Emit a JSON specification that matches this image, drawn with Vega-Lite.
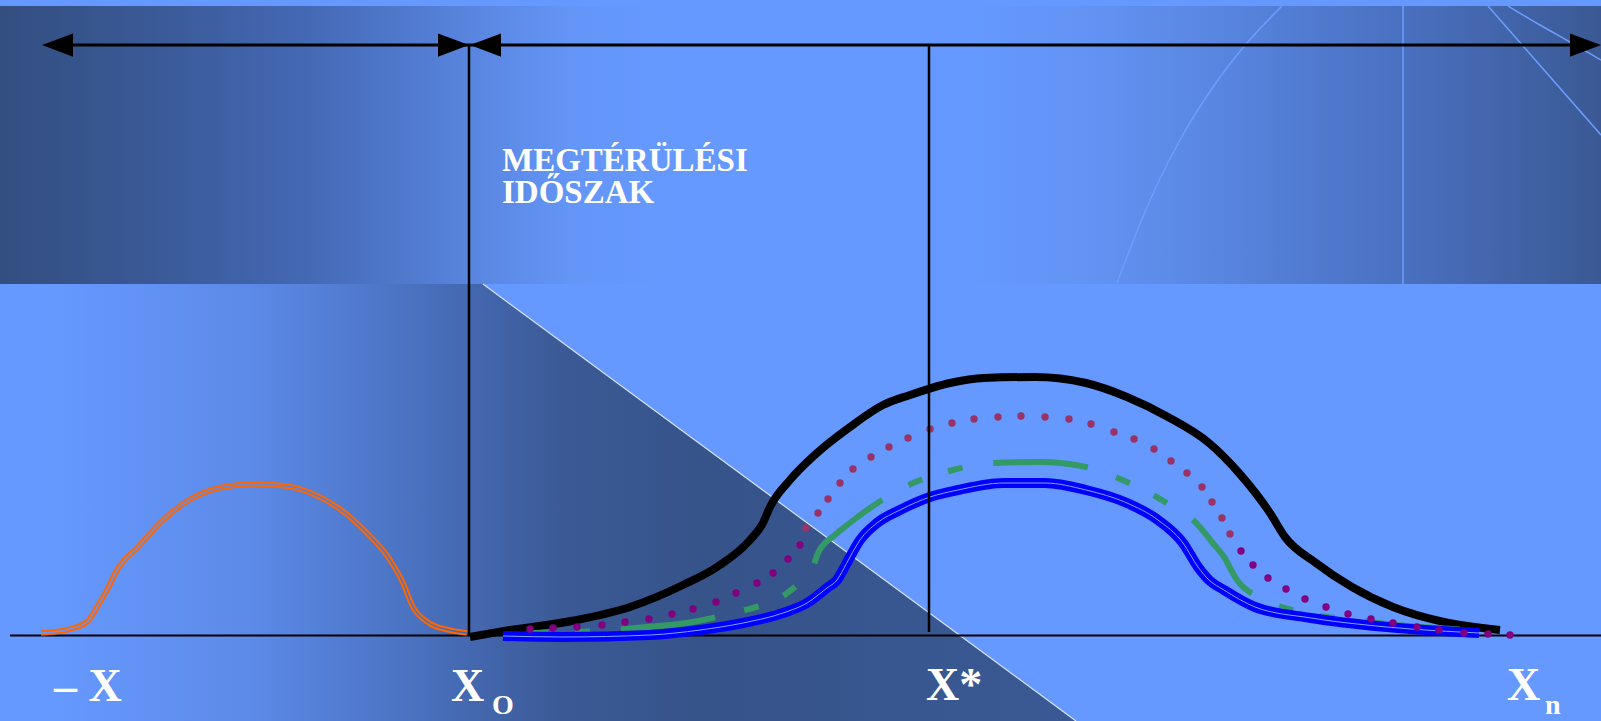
{
  "$schema": "https://vega.github.io/schema/vega-lite/v6.json",
  "width": 1601,
  "height": 721,
  "padding": 0,
  "autosize": {"type": "none"},
  "background": "#6699FF",
  "config": {"view": {"stroke": null}},
  "datasets": {
    "topband": [{"x": 0, "x2": 1601, "v": 629, "v2": 351}],
    "lowband": [{"x": 0, "x2": 1076, "v": 351, "v2": -86}],
    "tri": [{"x": 483, "v": 351, "v2": 351}, {"x": 1076, "v": -86, "v2": 351}],
    "diag": [{"x": 483, "v": 351}, {"x": 1076, "v": -86}],
    "deco": [
      {"id": "a", "x": 1282, "v": 629}, {"id": "a", "x": 1247, "v": 592}, {"id": "a", "x": 1213, "v": 548},
      {"id": "a", "x": 1180, "v": 495}, {"id": "a", "x": 1147, "v": 428}, {"id": "a", "x": 1117, "v": 352},
      {"id": "b", "x": 1488, "v": 629}, {"id": "b", "x": 1601, "v": 500},
      {"id": "c", "x": 1508, "v": 629}, {"id": "c", "x": 1540, "v": 610}, {"id": "c", "x": 1570, "v": 593}, {"id": "c", "x": 1601, "v": 575}
    ],
    "decovert": [{"x": 1403, "v": 629, "v2": 351}],
    "baseline": [{"x": 10, "x2": 1601, "v": -0.5}],
    "arrowline": [{"x": 60, "x2": 1590, "v": 590}],
    "arrowheads": [
      {"dir": "left", "x": 57.5, "v": 590}, {"dir": "right", "x": 453.5, "v": 590},
      {"dir": "left", "x": 485.5, "v": 590}, {"dir": "right", "x": 1585.5, "v": 590}
    ],
    "vlines": [{"x": 469, "v": 590, "v2": -1}, {"x": 929, "v": 590, "v2": 3}],
    "orange": [
      {"x": 41, "v": 2}, {"x": 66, "v": 5}, {"x": 87, "v": 13}, {"x": 97, "v": 28}, {"x": 107, "v": 45},
      {"x": 117, "v": 65}, {"x": 138, "v": 88}, {"x": 163, "v": 115}, {"x": 189, "v": 135}, {"x": 219, "v": 147},
      {"x": 255, "v": 151}, {"x": 286, "v": 149}, {"x": 311, "v": 142}, {"x": 337, "v": 128}, {"x": 367, "v": 102},
      {"x": 388, "v": 78}, {"x": 403, "v": 52}, {"x": 413, "v": 28}, {"x": 429, "v": 12}, {"x": 449, "v": 5}, {"x": 467, "v": 2}
    ],
    "black": [
      {"x": 470, "v": -2}, {"x": 510, "v": 5}, {"x": 577, "v": 15}, {"x": 630, "v": 28}, {"x": 683, "v": 50},
      {"x": 717, "v": 68}, {"x": 750, "v": 95}, {"x": 763, "v": 112}, {"x": 770, "v": 128}, {"x": 790, "v": 155},
      {"x": 817, "v": 182}, {"x": 850, "v": 208}, {"x": 883, "v": 230}, {"x": 910, "v": 240}, {"x": 950, "v": 252},
      {"x": 984, "v": 257}, {"x": 1035, "v": 258}, {"x": 1086, "v": 252}, {"x": 1127, "v": 238}, {"x": 1168, "v": 218},
      {"x": 1209, "v": 192}, {"x": 1239, "v": 162}, {"x": 1270, "v": 122}, {"x": 1285, "v": 98}, {"x": 1316, "v": 72},
      {"x": 1352, "v": 48}, {"x": 1393, "v": 28}, {"x": 1444, "v": 13}, {"x": 1500, "v": 5}
    ],
    "green": [
      {"x": 530, "v": 2}, {"x": 600, "v": 4}, {"x": 647, "v": 8}, {"x": 693, "v": 13}, {"x": 737, "v": 23},
      {"x": 760, "v": 29}, {"x": 778, "v": 36}, {"x": 796, "v": 49}, {"x": 812, "v": 65}, {"x": 818, "v": 82},
      {"x": 835, "v": 100}, {"x": 851, "v": 113}, {"x": 879, "v": 133}, {"x": 911, "v": 151}, {"x": 953, "v": 165},
      {"x": 994, "v": 172}, {"x": 1040, "v": 173}, {"x": 1086, "v": 168}, {"x": 1127, "v": 153}, {"x": 1165, "v": 133},
      {"x": 1198, "v": 110}, {"x": 1212, "v": 93}, {"x": 1224, "v": 78}, {"x": 1237, "v": 55}, {"x": 1260, "v": 37},
      {"x": 1300, "v": 23}, {"x": 1362, "v": 14}, {"x": 1420, "v": 8}, {"x": 1470, "v": 5}
    ],
    "blue": [
      {"x": 503, "v": -1}, {"x": 563, "v": -2}, {"x": 650, "v": 0}, {"x": 700, "v": 5}, {"x": 743, "v": 12},
      {"x": 783, "v": 22}, {"x": 807, "v": 32}, {"x": 827, "v": 47}, {"x": 837, "v": 55}, {"x": 843, "v": 65},
      {"x": 850, "v": 78}, {"x": 860, "v": 95}, {"x": 877, "v": 112}, {"x": 900, "v": 125}, {"x": 930, "v": 138},
      {"x": 958, "v": 145}, {"x": 1004, "v": 152}, {"x": 1045, "v": 152}, {"x": 1086, "v": 145}, {"x": 1127, "v": 132},
      {"x": 1158, "v": 115}, {"x": 1183, "v": 92}, {"x": 1198, "v": 68}, {"x": 1209, "v": 55}, {"x": 1224, "v": 45},
      {"x": 1255, "v": 28}, {"x": 1311, "v": 17}, {"x": 1387, "v": 8}, {"x": 1479, "v": 2}
    ],
    "dots": [
      {"part": "tail", "x": 530, "v": 6}, {"part": "tail", "x": 553, "v": 7}, {"part": "tail", "x": 577, "v": 8},
      {"part": "tail", "x": 602, "v": 10}, {"part": "tail", "x": 625, "v": 13}, {"part": "tail", "x": 649, "v": 16},
      {"part": "tail", "x": 672, "v": 21}, {"part": "tail", "x": 693, "v": 26}, {"part": "tail", "x": 716, "v": 33},
      {"part": "tail", "x": 736, "v": 42}, {"part": "tail", "x": 757, "v": 52}, {"part": "tail", "x": 773, "v": 62},
      {"part": "tail", "x": 788, "v": 76}, {"part": "tail", "x": 800, "v": 90}, {"part": "arc", "x": 806, "v": 107},
      {"part": "arc", "x": 818, "v": 122}, {"part": "arc", "x": 828, "v": 136}, {"part": "arc", "x": 840, "v": 152},
      {"part": "arc", "x": 853, "v": 166}, {"part": "arc", "x": 871, "v": 178}, {"part": "arc", "x": 889, "v": 188},
      {"part": "arc", "x": 908, "v": 197}, {"part": "arc", "x": 930, "v": 206}, {"part": "arc", "x": 952, "v": 212},
      {"part": "arc", "x": 974, "v": 216}, {"part": "arc", "x": 998, "v": 218}, {"part": "arc", "x": 1021, "v": 219},
      {"part": "arc", "x": 1045, "v": 218}, {"part": "arc", "x": 1069, "v": 216}, {"part": "arc", "x": 1091, "v": 211},
      {"part": "arc", "x": 1114, "v": 203}, {"part": "arc", "x": 1134, "v": 196}, {"part": "arc", "x": 1154, "v": 186},
      {"part": "arc", "x": 1171, "v": 174}, {"part": "arc", "x": 1187, "v": 162}, {"part": "arc", "x": 1202, "v": 148},
      {"part": "arc", "x": 1212, "v": 133}, {"part": "arc", "x": 1222, "v": 117}, {"part": "arc", "x": 1230, "v": 101},
      {"part": "tail", "x": 1241, "v": 84}, {"part": "tail", "x": 1253, "v": 70}, {"part": "tail", "x": 1268, "v": 57},
      {"part": "tail", "x": 1286, "v": 46}, {"part": "tail", "x": 1305, "v": 36}, {"part": "tail", "x": 1326, "v": 28},
      {"part": "tail", "x": 1348, "v": 21}, {"part": "tail", "x": 1371, "v": 16}, {"part": "tail", "x": 1393, "v": 12},
      {"part": "tail", "x": 1417, "v": 8}, {"part": "tail", "x": 1439, "v": 5}, {"part": "tail", "x": 1464, "v": 2},
      {"part": "tail", "x": 1488, "v": 1}, {"part": "tail", "x": 1510, "v": 0}
    ],
    "title": [
      {"t": "MEGTÉRÜLÉSI", "x": 502, "v": 464.5},
      {"t": "IDŐSZAK", "x": 502, "v": 432}
    ],
    "labels": [
      {"t": "– X", "x": 54, "v": -66},
      {"t": "X", "x": 451, "v": -66},
      {"t": "X*", "x": 926, "v": -65},
      {"t": "X", "x": 1507, "v": -65}
    ],
    "subs": [
      {"t": "O", "x": 492, "v": -79},
      {"t": "n", "x": 1545, "v": -79}
    ]
  },
  "encoding": {
    "x": {"field": "x", "type": "quantitative", "scale": {"domain": [0, 1601], "nice": false, "zero": false}, "axis": null},
    "y": {"field": "v", "type": "quantitative", "scale": {"domain": [-86, 635], "nice": false, "zero": false}, "axis": null}
  },
  "layer": [
    {
      "data": {"name": "topband"},
      "mark": {"type": "rect", "color": {"gradient": "linear", "x1": 0, "y1": 0, "x2": 1, "y2": 0, "stops": [
        {"offset": 0, "color": "#334E80"}, {"offset": 0.1, "color": "#3A5A98"}, {"offset": 0.19, "color": "#4468B4"},
        {"offset": 0.29, "color": "#5884DD"}, {"offset": 0.36, "color": "#6496F8"}, {"offset": 0.42, "color": "#6699FF"},
        {"offset": 0.6, "color": "#6699FF"}, {"offset": 0.68, "color": "#6293F4"}, {"offset": 0.77, "color": "#5784DE"},
        {"offset": 0.876, "color": "#4A70C0"}, {"offset": 1, "color": "#3A5994"}]}},
      "encoding": {"x2": {"field": "x2"}, "y2": {"field": "v2"}}
    },
    {
      "data": {"name": "lowband"},
      "mark": {"type": "rect", "color": {"gradient": "linear", "x1": 0, "y1": 0, "x2": 1, "y2": 0, "stops": [
        {"offset": 0, "color": "#6699FF"}, {"offset": 0.046, "color": "#6699FF"}, {"offset": 0.232, "color": "#5C8AE8"},
        {"offset": 0.372, "color": "#4C74C4"}, {"offset": 0.437, "color": "#4468B0"}, {"offset": 0.52, "color": "#3B5A96"},
        {"offset": 0.65, "color": "#36538A"}, {"offset": 1, "color": "#3A5994"}]}},
      "encoding": {"x2": {"field": "x2"}, "y2": {"field": "v2"}}
    },
    {
      "data": {"name": "tri"},
      "mark": {"type": "area", "color": "#6699FF", "opacity": 1},
      "encoding": {"y2": {"field": "v2"}}
    },
    {
      "data": {"name": "diag"},
      "mark": {"type": "line", "color": "#D8E2F4", "strokeWidth": 1.2},
      "encoding": {}
    },
    {
      "data": {"name": "deco"},
      "mark": {"type": "line", "color": "#6C9DFF", "strokeWidth": 1.5, "interpolate": "monotone"},
      "encoding": {"detail": {"field": "id"}}
    },
    {
      "data": {"name": "decovert"},
      "mark": {"type": "rule", "color": "#6C9DFF", "strokeWidth": 1.5},
      "encoding": {"y2": {"field": "v2"}}
    },
    {
      "data": {"name": "baseline"},
      "mark": {"type": "rule", "color": "#000000", "strokeWidth": 2},
      "encoding": {"x2": {"field": "x2"}}
    },
    {
      "data": {"name": "arrowline"},
      "mark": {"type": "rule", "color": "#000000", "strokeWidth": 3},
      "encoding": {"x2": {"field": "x2"}}
    },
    {
      "data": {"name": "arrowheads"},
      "transform": [{"filter": "datum.dir === 'left'"}],
      "mark": {"type": "point", "shape": "M -1 0 L 1 -0.75 L 1 0.75 Z", "filled": true, "color": "#000000", "opacity": 1, "size": 961, "strokeWidth": 0}
    },
    {
      "data": {"name": "arrowheads"},
      "transform": [{"filter": "datum.dir === 'right'"}],
      "mark": {"type": "point", "shape": "M 1 0 L -1 -0.75 L -1 0.75 Z", "filled": true, "color": "#000000", "opacity": 1, "size": 961, "strokeWidth": 0}
    },
    {
      "data": {"name": "orange"},
      "mark": {"type": "line", "color": "#FF6600", "strokeWidth": 5.5, "interpolate": "monotone"},
      "encoding": {}
    },
    {
      "data": {"name": "orange"},
      "mark": {"type": "line", "strokeWidth": 1.5, "interpolate": "monotone", "stroke": {"gradient": "linear", "x1": 0, "y1": 0, "x2": 1, "y2": 0, "stops": [
        {"offset": 0, "color": "#6699FF"}, {"offset": 0.49, "color": "#5C8AE8"}, {"offset": 0.84, "color": "#4C74C4"}, {"offset": 1, "color": "#4468B0"}]}},
      "encoding": {}
    },
    {
      "data": {"name": "black"},
      "mark": {"type": "line", "color": "#000000", "strokeWidth": 8, "interpolate": "monotone"},
      "encoding": {}
    },
    {
      "data": {"name": "green"},
      "mark": {"type": "line", "color": "#339966", "strokeWidth": 6, "interpolate": "monotone", "strokeDash": [95, 30, 15, 27, 15, 31], "strokeDashOffset": 122, "strokeCap": "butt"},
      "encoding": {}
    },
    {
      "data": {"name": "blue"},
      "mark": {"type": "line", "color": "#0000FF", "strokeWidth": 10, "interpolate": "monotone"},
      "encoding": {}
    },
    {
      "data": {"name": "blue"},
      "mark": {"type": "line", "color": "#7FA6FF", "strokeWidth": 1, "interpolate": "monotone"},
      "encoding": {}
    },
    {
      "data": {"name": "dots"},
      "mark": {"type": "point", "shape": "circle", "filled": true, "opacity": 1, "size": 55, "strokeWidth": 0},
      "encoding": {"color": {"field": "part", "type": "nominal", "scale": {"domain": ["tail", "arc"], "range": ["#800080", "#993366"]}, "legend": null}}
    },
    {
      "data": {"name": "vlines"},
      "mark": {"type": "rule", "color": "#000000", "strokeWidth": 2.5},
      "encoding": {"y2": {"field": "v2"}}
    },
    {
      "data": {"name": "title"},
      "mark": {"type": "text", "align": "left", "baseline": "alphabetic", "font": "Liberation Serif", "fontWeight": "bold", "fontSize": 33, "color": "#FFFFFF"},
      "encoding": {"text": {"field": "t"}}
    },
    {
      "data": {"name": "labels"},
      "mark": {"type": "text", "align": "left", "baseline": "alphabetic", "font": "Liberation Serif", "fontWeight": "bold", "fontSize": 46, "color": "#FFFFFF"},
      "encoding": {"text": {"field": "t"}}
    },
    {
      "data": {"name": "subs"},
      "mark": {"type": "text", "align": "left", "baseline": "alphabetic", "font": "Liberation Serif", "fontWeight": "bold", "fontSize": 28, "color": "#FFFFFF"},
      "encoding": {"text": {"field": "t"}}
    }
  ]
}
